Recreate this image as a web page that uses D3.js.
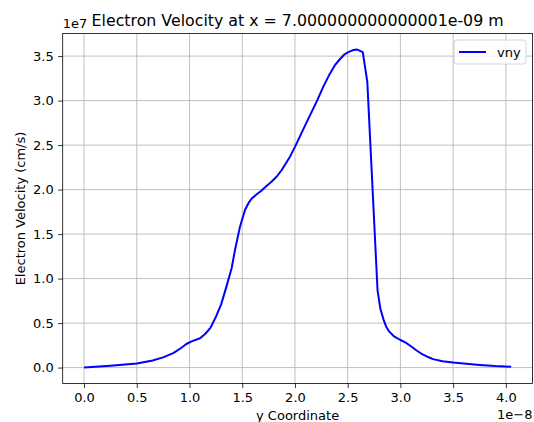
<html>
    <head>
        <script src="https://d3js.org/d3.v7.min.js"></script>
        <style>
            body { margin: 0; background: #fff; }
            svg text { font-family: "DejaVu Sans", sans-serif; fill: #000; }
            .tick text { font-size: 13px; }
            .grid line { stroke: #b0b0b0; stroke-width: 0.8px; }
            .line { fill: none; stroke: #0000ff; stroke-width: 2px; stroke-linejoin: round; }
        </style>
    </head>
    <body>
        <script>
            // y coordinate, in units of 1e-8 m
            var yCoord = [0.00, 0.25, 0.50, 0.65, 0.75, 0.85, 0.92, 0.97, 1.02, 1.10,
                1.15, 1.20, 1.25, 1.30, 1.35, 1.40, 1.431, 1.478, 1.526, 1.56, 1.59,
                1.64, 1.684, 1.73, 1.78, 1.83, 1.874, 1.953, 2.00, 2.10, 2.21, 2.27, 2.33, 2.38, 2.43, 2.47, 2.506,
                2.545, 2.585, 2.643, 2.686, 2.783, 2.81, 2.84, 2.865, 2.89, 2.94, 3.00, 3.05, 3.10,
                3.15, 3.20, 3.25, 3.31, 3.40, 3.50, 3.60, 3.75, 3.90, 4.05];
            // electron velocity vny, in units of 1e7 cm/s
            var vny = [0.00, 0.02, 0.045, 0.08, 0.115, 0.165, 0.22, 0.265, 0.295, 0.33,
                0.38, 0.45, 0.57, 0.71, 0.91, 1.12, 1.32, 1.58, 1.77, 1.85, 1.90,
                1.95, 1.99, 2.04, 2.09, 2.15, 2.22, 2.37, 2.48, 2.73, 3.00, 3.16, 3.30, 3.40, 3.47, 3.52, 3.545,
                3.565, 3.575, 3.545, 3.21, 0.87, 0.66, 0.54, 0.46, 0.41, 0.35, 0.31, 0.28, 0.24,
                0.195, 0.155, 0.125, 0.095, 0.072, 0.056, 0.045, 0.03, 0.018, 0.01];
            var xTicks = [0, 0.5, 1.0, 1.5, 2.0, 2.5, 3.0, 3.5, 4.0];
            var yTicks = [0, 0.5, 1.0, 1.5, 2.0, 2.5, 3.0, 3.5];

            var data = yCoord.map(function(d, i) { return {y: d, v: vny[i]}; });

            var W = 534, H = 422;
            var pLeft = 62.7, pRight = 532.5, pTop = 33.5, pBottom = 383.5;

            // matplotlib style 5% margins
            var xe = d3.extent(yCoord), ye = d3.extent(vny);
            var xm = (xe[1] - xe[0]) * 0.05, ym = (ye[1] - ye[0]) * 0.05;
            var x = d3.scaleLinear().domain([xe[0] - xm, xe[1] + xm]).range([pLeft, pRight]);
            var y = d3.scaleLinear().domain([ye[0] - ym, ye[1] + ym]).range([pBottom, pTop]);

            var svg = d3.select("body").append("svg")
                .attr("width", W)
                .attr("height", H);

            // grid
            var grid = svg.append("g").attr("class", "grid");
            grid.selectAll(".gx").data(xTicks).enter().append("line")
                .attr("x1", function(d) { return x(d); })
                .attr("x2", function(d) { return x(d); })
                .attr("y1", pTop).attr("y2", pBottom);
            grid.selectAll(".gy").data(yTicks).enter().append("line")
                .attr("y1", function(d) { return y(d); })
                .attr("y2", function(d) { return y(d); })
                .attr("x1", pLeft).attr("x2", pRight);

            // the line
            var line = d3.line()
                .x(function(d) { return x(d.y); })
                .y(function(d) { return y(d.v); });

            svg.append("path")
                .datum(data)
                .attr("class", "line")
                .attr("d", line);

            // frame
            svg.append("rect")
                .attr("x", pLeft).attr("y", pTop)
                .attr("width", pRight - pLeft).attr("height", pBottom - pTop)
                .attr("fill", "none").attr("stroke", "#000").attr("stroke-width", 0.8);

            // axes
            var xAxis = svg.append("g")
                .attr("transform", "translate(0," + pBottom + ")")
                .call(d3.axisBottom(x).tickValues(xTicks).tickFormat(d3.format(".1f"))
                    .tickSize(4.6).tickPadding(4.4));
            var yAxis = svg.append("g")
                .attr("transform", "translate(" + pLeft + ",0)")
                .call(d3.axisLeft(y).tickValues(yTicks).tickFormat(d3.format(".1f"))
                    .tickSize(4.6).tickPadding(4.4));
            [xAxis, yAxis].forEach(function(a) {
                a.attr("font-family", null).attr("font-size", null);
                a.select(".domain").remove();
                a.selectAll(".tick line").attr("stroke", "#000").attr("stroke-width", 0.8);
            });

            // offset texts
            svg.append("text")
                .attr("x", pLeft).attr("y", 28)
                .style("font-size", "13px")
                .text("1e7");
            svg.append("text")
                .attr("x", pRight).attr("y", 419)
                .attr("text-anchor", "end")
                .style("font-size", "13px")
                .text("1e\u22128");

            // title and labels
            svg.append("text")
                .attr("x", (pLeft + pRight) / 2).attr("y", 26)
                .attr("text-anchor", "middle")
                .style("font-size", "15.8px")
                .text("Electron Velocity at x = 7.000000000000001e-09 m");
            svg.append("text")
                .attr("x", (pLeft + pRight) / 2).attr("y", 420)
                .attr("text-anchor", "middle")
                .style("font-size", "13px")
                .text("y Coordinate");
            svg.append("text")
                .attr("transform", "translate(25," + ((pTop + pBottom) / 2) + ") rotate(-90)")
                .attr("text-anchor", "middle")
                .style("font-size", "13px")
                .text("Electron Velocity (cm/s)");

            // legend
            var lg = svg.append("g").attr("transform", "translate(454,40)");
            lg.append("rect")
                .attr("width", 72).attr("height", 24).attr("rx", 3)
                .attr("fill", "#fff").attr("fill-opacity", 0.8)
                .attr("stroke", "#cccccc").attr("stroke-width", 0.8);
            lg.append("line")
                .attr("x1", 5).attr("x2", 32).attr("y1", 12).attr("y2", 12)
                .attr("stroke", "#0000ff").attr("stroke-width", 2);
            lg.append("text")
                .attr("x", 43).attr("y", 17)
                .style("font-size", "13px")
                .text("vny");
        </script>
    </body>
</html>
